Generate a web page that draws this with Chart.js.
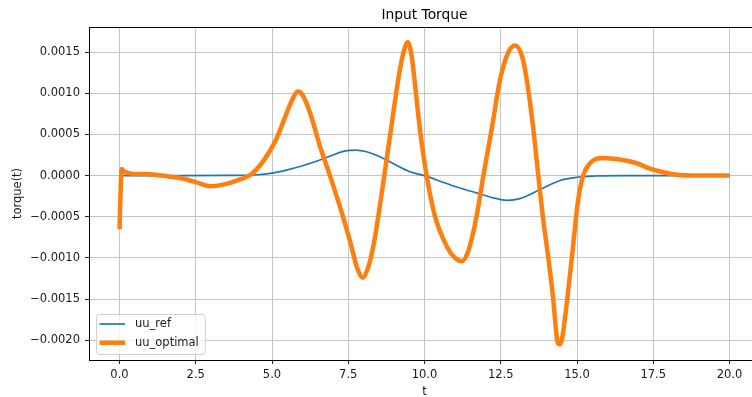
<!DOCTYPE html>
<html><head><meta charset="utf-8">
<script src="https://cdn.jsdelivr.net/npm/chart.js@4/dist/chart.umd.min.js"></script>
<style>html,body{margin:0;padding:0;overflow:hidden;background:#fff;width:752px;height:397px}
canvas{display:block}</style></head><body>
<canvas id="c" width="760" height="397" style="width:760px;height:397px"></canvas>
<script>
const chartTitle = 'Input Torque';
const xLabel = 't';
const yLabel = 'torque(t)';
const seriesNames = ['uu_ref', 'uu_optimal'];
const xTicks = [0, 2.5, 5, 7.5, 10, 12.5, 15, 17.5, 20];
const yTicks = [-0.002, -0.0015, -0.001, -0.0005, 0, 0.0005, 0.001, 0.0015];

const refT = [0, 2, 3.5, 4.5, 5.0, 5.5, 6.0, 6.57, 7.0, 7.4, 7.75, 8.1, 8.54, 9.0, 9.5, 10.07, 10.6, 11.16, 11.7, 12.25, 12.7, 13.13, 13.79, 14.44, 15.0, 15.6, 16.5, 20];
const refU = [0, 0, 0.000002, 0.00001, 0.00003, 0.00007, 0.00012, 0.00019, 0.00025, 0.00030, 0.00031, 0.00029, 0.00023, 0.00014, 0.00005, -0.00001, -0.00008, -0.00015, -0.00021, -0.00027, -0.00030, -0.00028, -0.00017, -0.00006, -0.00002, -0.000005, 0, 0];

const optT = [0, 0.07, 0.15, 0.3, 0.5, 0.8, 1.2, 1.6, 2.0, 2.5, 3.0, 3.5, 4.0, 4.3, 4.6, 4.9, 5.15, 5.48, 5.7, 5.84, 6.0, 6.25, 6.57, 6.9, 7.23, 7.56, 7.8, 7.97, 8.15, 8.32, 8.5, 8.68, 8.9, 9.14, 9.3, 9.45, 9.58, 9.67, 9.85, 10.07, 10.34, 10.73, 11.0, 11.22, 11.45, 11.71, 11.93, 12.2, 12.48, 12.75, 12.97, 13.2, 13.35, 13.57, 13.73, 13.88, 14.06, 14.22, 14.35, 14.42, 14.5, 14.68, 14.83, 14.97, 15.04, 15.2, 15.43, 15.75, 15.97, 16.5, 16.96, 17.35, 17.72, 18.27, 18.8, 19.5, 20.0];
const optU = [-0.00065, 0.00008, 0.00005, 0.00003, 0.00002, 0.00002, 0.00001, -0.00001, -0.00003, -0.00008, -0.00013, -0.00010, -0.00004, 0.00001, 0.00012, 0.00028, 0.00045, 0.00076, 0.00095, 0.00102, 0.00098, 0.00076, 0.00036, 0.0, -0.00038, -0.00080, -0.00113, -0.00124, -0.00112, -0.00086, -0.00046, 0.0, 0.00056, 0.00117, 0.00148, 0.00162, 0.00145, 0.00117, 0.00056, 0.0, -0.00049, -0.00086, -0.00100, -0.00104, -0.00090, -0.00049, 0.0, 0.00056, 0.00117, 0.00150, 0.00158, 0.00145, 0.00117, 0.00056, 0.0, -0.0005, -0.0010, -0.0015, -0.0020, -0.00205, -0.0020, -0.0015, -0.0010, -0.0005, -0.00029, 0.0, 0.00015, 0.00021, 0.00021, 0.00019, 0.00015, 0.00009, 0.00005, 0.00001, 0.0, 0.0, 0.0];

const FONT = 'DejaVu Sans';
const TXT = '#1a1a1a';
const tickFont = {family: FONT, size: 11.5};

const toPts = (ts, vs) => ts.map((t, i) => ({x: t, y: vs[i]}));
const fmtY = v => { const s = Math.abs(v).toFixed(4); return (v < -1e-12 ? '\u2212' : '') + s; };

const decor = {
  id: 'decor',
  afterDatasetsDraw(chart) {
    const {ctx, chartArea: a} = chart;
    ctx.save();
    ctx.strokeStyle = '#000';
    ctx.lineWidth = 1;
    ctx.beginPath();
    ctx.moveTo(a.left + 0.5, a.top + 0.5); ctx.lineTo(a.left + 0.5, a.bottom + 0.5);
    ctx.moveTo(a.left, a.top + 0.5); ctx.lineTo(a.right, a.top + 0.5);
    ctx.moveTo(a.left, a.bottom + 0.5); ctx.lineTo(a.right, a.bottom + 0.5);
    ctx.moveTo(a.right - 0.5, a.top); ctx.lineTo(a.right - 0.5, a.bottom);
    ctx.stroke();
    // title
    ctx.fillStyle = '#000';
    ctx.font = '13.8px "' + FONT + '"';
    ctx.textAlign = 'center';
    ctx.textBaseline = 'middle';
    ctx.fillText(chartTitle, (a.left + a.right) / 2, 15);
    // legend
    ctx.font = '11.5px "' + FONT + '"';
    const ds = chart.data.datasets;
    let tw = 0;
    ds.forEach(d => { tw = Math.max(tw, ctx.measureText(d.label).width); });
    const bx = a.left + 7, by = a.bottom - 46, bw = 45 + tw, bh = 40;
    ctx.beginPath();
    ctx.roundRect(bx + 0.5, by + 0.5, bw, bh, 3);
    ctx.fillStyle = 'rgba(255,255,255,0.8)';
    ctx.fill();
    ctx.strokeStyle = '#d0d0d0';
    ctx.lineWidth = 1;
    ctx.stroke();
    ds.forEach((d, i) => {
      const y = by + 10 + i * 18.7;
      ctx.beginPath();
      ctx.strokeStyle = d.borderColor;
      ctx.lineWidth = d.borderWidth;
      ctx.lineCap = 'butt';
      ctx.moveTo(bx + 3.5, y); ctx.lineTo(bx + 29, y);
      ctx.stroke();
      ctx.fillStyle = TXT;
      ctx.textAlign = 'left';
      ctx.textBaseline = 'middle';
      ctx.fillText(d.label, bx + 39, y);
    });
    ctx.restore();
  }
};

new Chart(document.getElementById('c'), {
  type: 'line',
  data: {
    datasets: [
      {label: seriesNames[0], data: toPts(refT, refU), borderColor: '#1f77b4', borderWidth: 1.7, order: 1,
       pointRadius: 0, fill: false, cubicInterpolationMode: 'monotone'},
      {label: seriesNames[1], data: toPts(optT, optU), borderColor: '#ff7f0e', borderWidth: 4.5, order: 0,
       pointRadius: 0, fill: false, cubicInterpolationMode: 'monotone', borderCapStyle: 'butt', borderJoinStyle: 'round'}
    ]
  },
  options: {
    responsive: false, animation: false, devicePixelRatio: 1,
    layout: {padding: {top: 27, left: 0, right: 0, bottom: 0}},
    plugins: {legend: {display: false}, title: {display: false}, tooltip: {enabled: false}},
    scales: {
      x: {
        type: 'linear', min: -1, max: 21,
        afterBuildTicks: s => { s.ticks = xTicks.map(v => ({value: v})); },
        afterFit: s => { s.height = 37; },
        ticks: {callback: v => Number(v).toFixed(1), font: tickFont, color: TXT, padding: 4.5, maxRotation: 0, autoSkip: false},
        grid: {color: '#c4c4c4', lineWidth: 1, tickColor: '#222', tickLength: 4, drawTicks: true},
        border: {display: false},
        title: {display: true, text: xLabel, font: tickFont, color: TXT, padding: {top: 0, bottom: -2}}
      },
      y: {
        type: 'linear', min: -0.00224, max: 0.001805,
        afterBuildTicks: s => { s.ticks = yTicks.map(v => ({value: v})); },
        afterFit: s => { s.width = 89; },
        ticks: {callback: v => fmtY(Number(v)), font: tickFont, color: TXT, padding: 5, autoSkip: false},
        grid: {color: '#c4c4c4', lineWidth: 1, tickColor: '#222', tickLength: 4, drawTicks: true},
        border: {display: false},
        title: {display: true, text: yLabel, font: tickFont, color: TXT, padding: {top: 11, bottom: 0}}
      }
    }
  },
  plugins: [decor]
});
</script>
</body></html>
